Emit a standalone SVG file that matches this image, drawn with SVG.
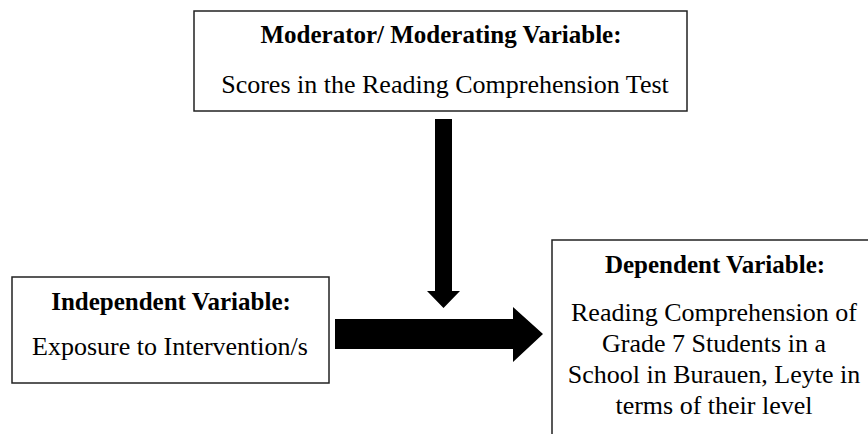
<svg xmlns="http://www.w3.org/2000/svg" width="868" height="434" viewBox="0 0 868 434">
<style>
.box{fill:#fff;stroke:#222;stroke-width:1.5}
.t{font-family:"Liberation Serif","Times New Roman",serif;fill:#000;text-anchor:middle}
.h{font-size:25px;font-weight:bold}
.b{font-size:26px}
.arr{fill:#000}
</style>
<rect width="868" height="434" fill="#fff"/>
<g id="moderator">
<rect class="box" x="194" y="11" width="493" height="100"/>
<text class="t h" x="441" y="43">Moderator/ Moderating Variable:</text>
<text class="t b" x="445" y="93">Scores in the Reading Comprehension Test</text>
</g>
<g id="independent">
<rect class="box" x="12" y="277" width="317" height="106"/>
<text class="t h" x="171" y="310">Independent Variable:</text>
<text class="t b" x="170" y="355">Exposure to Intervention/s</text>
</g>
<g id="dependent">
<rect class="box" x="552" y="240" width="330" height="210"/>
<text class="t h" x="715" y="273">Dependent Variable:</text>
<text class="t b" x="714" y="321">Reading Comprehension of</text>
<text class="t b" x="714" y="352">Grade 7 Students in a</text>
<text class="t b" x="714" y="383">School in Burauen, Leyte in</text>
<text class="t b" x="714" y="414">terms of their level</text>
</g>
<g id="connectors">
<polygon class="arr" points="435,119 452,119 452,291 460,291 443.5,308 427,291 435,291"/>
<polygon class="arr" points="335,319 513,319 513,307 543,334 513,362 513,349 335,349"/>
</g>
</svg>
